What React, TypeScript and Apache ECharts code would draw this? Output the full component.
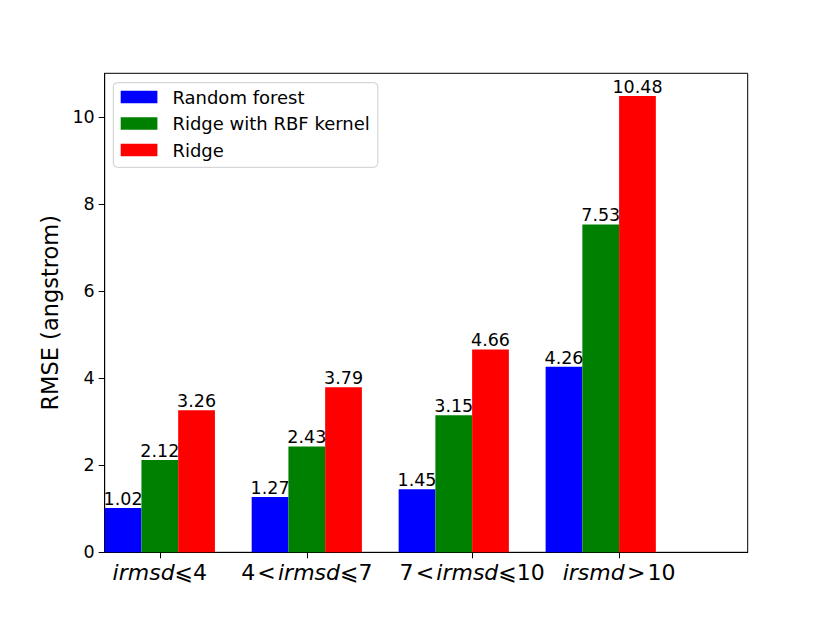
import React, { useEffect, useRef } from "react";
import * as echarts from "echarts";

// ---- data ----
const categories = ["irmsd⩽4", "4 < irmsd⩽7", "7 < irmsd⩽10", "irsmd > 10"];
const seriesNames = ["Random forest", "Ridge with RBF kernel", "Ridge"];
const randomForest = [1.02, 1.27, 1.45, 4.26];
const ridgeRBF = [2.12, 2.43, 3.15, 7.53];
const ridge = [3.26, 3.79, 4.66, 10.48];
const yTicks = [0, 2, 4, 6, 8, 10];

// ---- layout / style ----
const BAR_W = 0.25;
const TICK_OFFSETS = [0.375, 0.375, 0.5, 0.5];
const COLORS = ["#0000ff", "#008000", "#ff0000"];
const FONT = "DejaVu Sans";

export default function App() {
  const ref = useRef<HTMLDivElement>(null);

  useEffect(() => {
    document.body.style.margin = "0";
    const chart = echarts.init(ref.current!, null, { renderer: "svg" });
    const seriesData = [randomForest, ridgeRBF, ridge];
    const tickPos = categories.map((_, i) => i + TICK_OFFSETS[i]);

    const fmtLabel = (s: string) =>
      s.replace(/ /g, "\u200A").replace(/[a-z]+/g, (m) => `{it|${m}}`);

    const series = seriesData.map((vals, si) => ({
      type: "custom",
      name: seriesNames[si],
      itemStyle: { color: COLORS[si] },
      encode: { x: 0, y: 1 },
      data: vals.map((v, i) => [i, v]),
      renderItem: (params: any, api: any) => {
        const gi = api.value(0);
        const v = api.value(1);
        const left = gi + si * BAR_W;
        const p0 = api.coord([left, v]);
        const p1 = api.coord([left + BAR_W, 0]);
        return {
          type: "group",
          children: [
            {
              type: "rect",
              shape: { x: p0[0], y: p0[1], width: p1[0] - p0[0], height: p1[1] - p0[1] },
              style: { fill: COLORS[si] },
            },
            {
              type: "text",
              z2: 100,
              x: (p0[0] + p1[0]) / 2,
              y: p0[1],
              style: {
                text: Number(v).toFixed(2),
                align: "center",
                verticalAlign: "bottom",
                fontSize: 17.5,
                fontFamily: FONT,
                fill: "#000",
              },
            },
          ],
        };
      },
    }));

    chart.setOption({
      animation: false,
      textStyle: { fontFamily: FONT, color: "#000" },
      grid: {
        left: 104.7,
        top: 73.3,
        right: 82.3,
        bottom: 69.7,
        show: true,
        borderColor: "#000",
        borderWidth: 1,
        backgroundColor: "#fff",
      },
      legend: {
        data: seriesNames,
        orient: "vertical",
        left: 113.3,
        top: 82.7,
        icon: "rect",
        itemWidth: 36.7,
        itemHeight: 12.3,
        itemGap: 6.5,
        padding: [4.3, 8, 7.3, 7.4],
        backgroundColor: "rgba(255,255,255,0.8)",
        borderColor: "#cccccc",
        borderWidth: 1,
        borderRadius: 4,
        textStyle: {
          fontFamily: FONT,
          fontSize: 18,
          lineHeight: 20,
          color: "#000",
          padding: [0, 0, 0, 10],
        },
      },
      xAxis: {
        type: "value",
        min: 0,
        max: 4.375,
        splitLine: { show: false },
        axisLine: { show: true, lineStyle: { color: "#000", width: 1 } },
        axisTick: {
          show: true,
          length: 6,
          customValues: tickPos,
          lineStyle: { color: "#000" },
        },
        axisLabel: {
          customValues: tickPos,
          margin: 9,
          fontSize: 22,
          fontFamily: FONT,
          color: "#000",
          formatter: (val: number) => {
            const idx = tickPos.findIndex((t) => Math.abs(t - val) < 1e-6);
            return idx >= 0 ? fmtLabel(categories[idx]) : "";
          },
          rich: {
            it: { fontStyle: "italic", fontSize: 22, fontFamily: FONT, color: "#000" },
          },
        },
      },
      yAxis: {
        type: "value",
        min: 0,
        max: 11,
        name: "RMSE (angstrom)",
        nameLocation: "middle",
        nameGap: 41,
        nameTextStyle: { fontSize: 22.5, fontFamily: FONT, color: "#000" },
        splitLine: { show: false },
        axisLine: { show: true, lineStyle: { color: "#000", width: 1 } },
        axisTick: { show: true, length: 6, customValues: yTicks, lineStyle: { color: "#000" } },
        axisLabel: {
          customValues: yTicks,
          margin: 10,
          fontSize: 17.5,
          fontFamily: FONT,
          color: "#000",
        },
      },
      series,
    });

    return () => chart.dispose();
  }, []);

  return (
    <div
      ref={ref}
      style={{ position: "absolute", left: 0, top: 0, width: 830, height: 622, background: "#fff" }}
    />
  );
}
